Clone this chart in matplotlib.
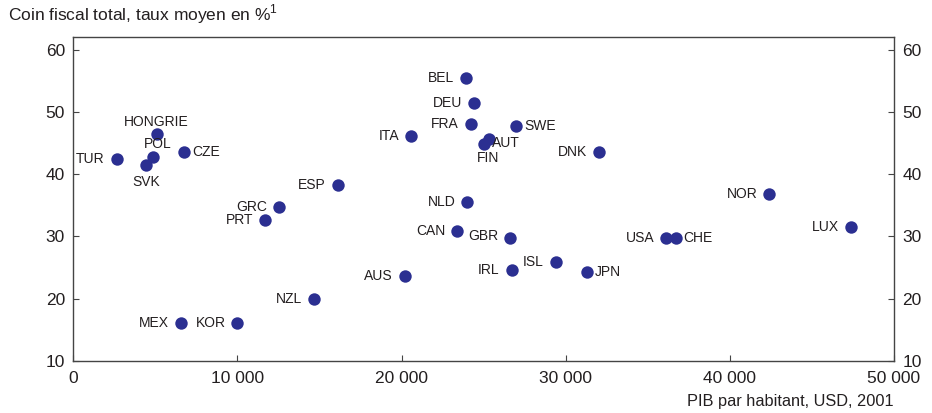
import matplotlib.pyplot as plt
from matplotlib.ticker import FuncFormatter

plt.rcParams['font.family'] = ['Liberation Sans', 'DejaVu Sans']
plt.rcParams['mathtext.fontset'] = 'custom'
plt.rcParams['mathtext.rm'] = 'Liberation Sans'

# Data
countries = ['TUR', 'HONGRIE', 'POL', 'SVK', 'CZE', 'MEX', 'KOR', 'PRT', 'GRC',
             'NZL', 'ESP', 'AUS', 'ITA', 'CAN', 'BEL', 'NLD', 'FRA', 'DEU',
             'FIN', 'AUT', 'GBR', 'IRL', 'SWE', 'ISL', 'JPN', 'DNK', 'USA',
             'CHE', 'NOR', 'LUX']
gdp = [2640, 5080, 4870, 4410, 6760, 6540, 9990, 11700, 12500,
       14660, 16100, 20200, 20600, 23400, 23900, 24000, 24200, 24400,
       25000, 25300, 26600, 26700, 27000, 29400, 31300, 32000, 36100,
       36700, 42400, 47400]
tax_wedge = [42.5, 46.4, 42.8, 41.5, 43.6, 16.1, 16.1, 32.6, 34.8,
             20.0, 38.3, 23.6, 46.1, 30.8, 55.4, 35.6, 48.1, 51.5,
             44.9, 45.7, 29.7, 24.55, 47.7, 25.9, 24.3, 43.5, 29.7,
             29.7, 36.9, 31.5]

# label placement: (dx, dy) in points, horizontal alignment
L = ((-8.5, 0), 'right')
R = ((5.5, 0), 'left')
placement = {c: L for c in countries}
placement.update({
    'CZE': R, 'SWE': R, 'JPN': R, 'CHE': R,
    'AUT': ((2.5, -3), 'left'),
    'HONGRIE': ((0, 9), 'center'),
    'POL': ((3.5, 9), 'center'),
    'SVK': ((0, -12.5), 'center'),
    'FIN': ((3, -10), 'center'),
    'GBR': ((-8.5, 1.5), 'right'),
})

navy = '#2b2f91'

fig = plt.figure(figsize=(9.32, 4.13), dpi=100)
ax = fig.add_axes([0.0787, 0.126, 0.8805, 0.7837])
ax.scatter(gdp, tax_wedge, s=80, color=navy, zorder=3, linewidths=0)

for c, x, y in zip(countries, gdp, tax_wedge):
    off, ha = placement[c]
    ax.annotate(c, (x, y), xytext=off, textcoords='offset points',
                ha=ha, va='center', fontsize=10, color='#231f20')

ax.set_xlim(0, 50000)
ax.set_ylim(10, 62)
ax.set_xticks([0, 10000, 20000, 30000, 40000, 50000])
ax.set_yticks([10, 20, 30, 40, 50, 60])
ax.xaxis.set_major_formatter(FuncFormatter(lambda v, p: f'{int(v):,}'.replace(',', ' ')))
ax.tick_params(axis='both', direction='in', length=4, labelsize=12.5,
               color='#444444', labelcolor='#231f20')
ax.tick_params(axis='y', right=True, labelright=True, pad=6)
ax.tick_params(axis='x', pad=7)
for sp in ax.spines.values():
    sp.set_color('#444444')
    sp.set_linewidth(1.0)

fig.text(0.0086, 0.965, 'Coin fiscal total, taux moyen en %$^1$', fontsize=12.5,
         ha='left', va='center', color='#231f20')
fig.text(0.959, 0.027, 'PIB par habitant, USD, 2001', fontsize=11.8,
         ha='right', va='center', color='#231f20')

fig.savefig('out.png', dpi=100)
